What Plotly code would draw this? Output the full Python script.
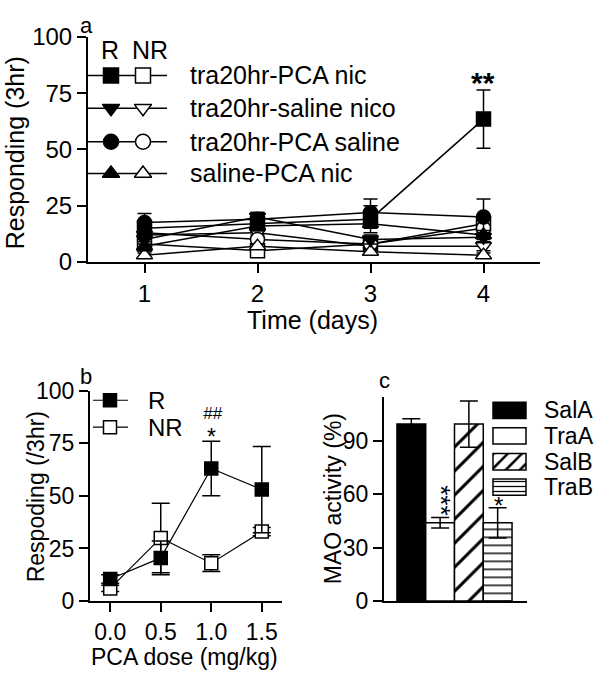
import plotly.graph_objects as go

W, H = 600, 689
FONT = "Arial, Liberation Sans, sans-serif"

# ---------------- data: panel a ----------------
days = [1, 2, 3, 4]
group_names = ["tra20hr-PCA nic", "tra20hr-saline nico", "tra20hr-PCA saline", "saline-PCA nic"]
group_symbols = ["square", "triangle-down", "circle", "triangle-up"]

pca_nic_R = [15, 17, 19, 63.5]
pca_nic_R_err = [3, 3, 6, 13]
pca_nic_NR = [8, 5, 8, 17]
pca_nic_NR_err = [2, 2, 2, 3]
sal_nico_R = [10, 20, 10, 11]
sal_nico_R_err = [2, 2, 2, 2]
sal_nico_NR = [12, 13, 7, 7]
sal_nico_NR_err = [2, 2, 1, 2]
pca_sal_R = [17.5, 19, 22, 20]
pca_sal_R_err = [4, 3, 6, 8]
pca_sal_NR = [13, 10, 8, 15]
pca_sal_NR_err = [2, 2, 2, 2]
sal_pca_R = [7, 16, 17, 12]
sal_pca_R_err = [2, 2, 2, 2]
sal_pca_NR = [3, 7, 4.5, 3]
sal_pca_NR_err = [1, 1, 1, 1]

# ---------------- data: panel b ----------------
doses = [0.0, 0.5, 1.0, 1.5]
b_R = [10.5, 20.5, 63, 53]
b_R_err = [2, 8, 13, 20.5]
b_NR = [6, 30, 18, 33]
b_NR_err = [1.5, 16.5, 4, 2]

# ---------------- data: panel c ----------------
mao_groups = ["SalA", "TraA", "SalB", "TraB"]
mao_vals = [99.5, 44, 99.5, 44]
mao_err = [3, 3, 13, 8.5]
mao_colors = ["black", "white", "white", "white"]
mao_patterns = ["", "", "/", "-"]

fig = go.Figure()

def px_dom_x(a, b):
    return [a / W, b / W]

def px_dom_y(top, bottom):
    return [1 - bottom / H, 1 - top / H]

LW = 1.5
ERR = dict(type="data", color="black", thickness=1.5)

# ---- panel a traces ----
series_a = [
    (pca_nic_R, pca_nic_R_err, 0, True), (pca_nic_NR, pca_nic_NR_err, 0, False),
    (sal_nico_R, sal_nico_R_err, 1, True), (sal_nico_NR, sal_nico_NR_err, 1, False),
    (pca_sal_R, pca_sal_R_err, 2, True), (pca_sal_NR, pca_sal_NR_err, 2, False),
    (sal_pca_R, sal_pca_R_err, 3, True), (sal_pca_NR, sal_pca_NR_err, 3, False),
]
for vals, err, gi, filled in sorted(series_a, key=lambda s: s[3]):
    fig.add_trace(go.Scatter(
        x=days, y=vals, mode="lines+markers",
        line=dict(color="black", width=LW),
        marker=dict(symbol=group_symbols[gi], size=14,
                    color="black" if filled else "white",
                    line=dict(color="black", width=1.5)),
        error_y=dict(array=err, width=7, **ERR),
        xaxis="x", yaxis="y", showlegend=False, cliponaxis=False))

# ---- panel b traces ----
fig.add_trace(go.Scatter(
    x=doses, y=b_NR, mode="lines+markers",
    line=dict(color="black", width=1.2),
    marker=dict(symbol="square", size=13, color="white", line=dict(color="black", width=1.5)),
    error_y=dict(array=b_NR_err, width=9, **ERR),
    xaxis="x2", yaxis="y2", showlegend=False, cliponaxis=False))
fig.add_trace(go.Scatter(
    x=doses, y=b_R, mode="lines+markers",
    line=dict(color="black", width=1.2),
    marker=dict(symbol="square", size=13, color="black", line=dict(color="black", width=1.5)),
    error_y=dict(array=b_R_err, width=9, **ERR),
    xaxis="x2", yaxis="y2", showlegend=False, cliponaxis=False))

# ---- panel c bars (one trace per bar so each has its own fill pattern) ----
bar_pat_size = {"/": 17, "-": 8}
for i, (g, v, e, c, p) in enumerate(zip(mao_groups, mao_vals, mao_err, mao_colors, mao_patterns)):
    mk = dict(color=c, line=dict(color="black", width=1.5))
    if p:
        mk["pattern"] = dict(shape=p, size=bar_pat_size[p], solidity=0.18,
                             fgcolor="black", bgcolor="white", fgopacity=1, fillmode="overlay")
    fig.add_trace(go.Bar(
        x=[i], y=[v], width=1, marker=mk, name=g,
        error_y=dict(array=[e], width=9, **ERR),
        xaxis="x3", yaxis="y3", showlegend=False, hoverinfo="skip"))

# ---- legend glyphs (overlay pixel axis x4/y4) ----
leg_a_rows = [64, 98, 133, 166]
lx, ly = [], []
for r in leg_a_rows:
    lx += [88, 167, None]
    ly += [r, r, None]
fig.add_trace(go.Scatter(x=lx, y=ly, mode="lines", line=dict(color="black", width=LW),
                         xaxis="x4", yaxis="y4", showlegend=False, hoverinfo="skip"))
for i, r in enumerate(leg_a_rows):
    fig.add_trace(go.Scatter(
        x=[111, 143], y=[r, r], mode="markers",
        marker=dict(symbol=group_symbols[i], size=15, color=["black", "white"],
                    line=dict(color="black", width=1.5)),
        xaxis="x4", yaxis="y4", showlegend=False, hoverinfo="skip"))

leg_b_rows = [402, 430]
fig.add_trace(go.Scatter(x=[93, 128, None, 93, 128], y=[402, 402, None, 430, 430], mode="lines",
                         line=dict(color="black", width=1.2),
                         xaxis="x4", yaxis="y4", showlegend=False, hoverinfo="skip"))
fig.add_trace(go.Scatter(x=[110, 110], y=leg_b_rows, mode="markers",
                         marker=dict(symbol="square", size=13, color=["black", "white"],
                                     line=dict(color="black", width=1.5)),
                         xaxis="x4", yaxis="y4", showlegend=False, hoverinfo="skip"))

leg_c_rows = [412.5, 439, 466, 492.5]
leg_pat_size = {"/": 10, "-": 5}
for g, r, c, p in zip(mao_groups, leg_c_rows, mao_colors, mao_patterns):
    mk = dict(color=c, line=dict(color="black", width=1.5))
    if p:
        mk["pattern"] = dict(shape=p, size=leg_pat_size[p], solidity=0.25,
                             fgcolor="black", bgcolor="white", fgopacity=1, fillmode="overlay")
    fig.add_trace(go.Bar(
        y=[r], x=[33], base=493, width=17, orientation="h", marker=mk,
        xaxis="x4", yaxis="y4", showlegend=False, hoverinfo="skip"))

# ---- axes ----
axis_common = dict(showline=True, linewidth=2, linecolor="black", ticks="outside",
                   ticklen=9, tickwidth=2, tickcolor="black", showgrid=False,
                   zeroline=False, tickfont=dict(family=FONT, size=24, color="black"))
axis_b = dict(axis_common, tickfont=dict(family=FONT, size=23, color="black"))

fig.update_layout(
    width=W, height=H, margin=dict(l=0, r=0, t=0, b=0),
    paper_bgcolor="white", plot_bgcolor="rgba(0,0,0,0)",
    font=dict(family=FONT, color="black"),
    showlegend=False, barmode="overlay",
    xaxis=dict(domain=px_dom_x(88, 540), range=[0.5, 4.5], tickvals=days, anchor="y", **axis_common),
    yaxis=dict(domain=px_dom_y(24, 258), range=[0, 100], tickvals=[0, 25, 50, 75, 100], anchor="x", **axis_common),
    xaxis2=dict(domain=px_dom_x(90, 282), range=[-0.2, 1.7], tickvals=doses, tickformat=".1f", anchor="y2", **axis_b),
    yaxis2=dict(domain=px_dom_y(392, 611), range=[0, 100], tickvals=[0, 25, 50, 75, 100], anchor="x2", **axis_b),
    xaxis3=dict(domain=px_dom_x(384, 527), range=[-0.95, 4.02], anchor="y3",
                showline=True, linewidth=2, linecolor="black", ticks="", showticklabels=False,
                showgrid=False, zeroline=False),
    yaxis3=dict(domain=px_dom_y(399, 611), range=[0, 114.5], tickvals=[0, 30, 60, 90], anchor="x3", **axis_b),
    xaxis4=dict(domain=[0, 1], range=[0, W], visible=False, anchor="y4", fixedrange=True),
    yaxis4=dict(domain=[0, 1], range=[H, 0], visible=False, anchor="x4", fixedrange=True),
)

def ann(x, y, text, size=24, xanchor="center", yanchor="middle", angle=0, **kw):
    fig.add_annotation(x=x, y=y, xref="x4", yref="y4", text=text, showarrow=False,
                       xanchor=xanchor, yanchor=yanchor, textangle=angle,
                       font=dict(family=FONT, size=size, color="black"), **kw)

# panel a texts
ann(86, 12, "a", size=22)
ann(110, 37, "R", size=25)
ann(150, 37, "NR", size=25)
for name, r in zip(group_names, leg_a_rows):
    ann(188, r, name, size=25, xanchor="left")
ann(312, 318, "Time (days)", size=25)
ann(15, 145, "Responding (3hr)", size=25, angle=-90)
ann(483, 71, "<b>**</b>", size=30)

# panel b texts
ann(86, 377, "b", size=22)
ann(146, 402, "R", size=24, xanchor="left")
ann(146, 430, "NR", size=24, xanchor="left")
ann(184, 669, "PCA dose (mg/kg)", size=23)
ann(36, 503, "Respoding (/3hr)", size=23, angle=-90)
ann(212, 416, "<i>##</i>", size=17)
ann(211, 440, "*", size=23)

# panel c texts
ann(384, 381, "c", size=22)
for name, r in zip(mao_groups, leg_c_rows):
    ann(542, r, name, size=23, xanchor="left")
ann(333, 505, "MAO activity (%)", size=23, angle=-90)
ann(441, 506, "***", size=26, angle=90)
ann(498, 512, "*", size=24)

fig.write_html("out.html", config={"displayModeBar": False},
               post_script="document.body.style.margin='0px';")
